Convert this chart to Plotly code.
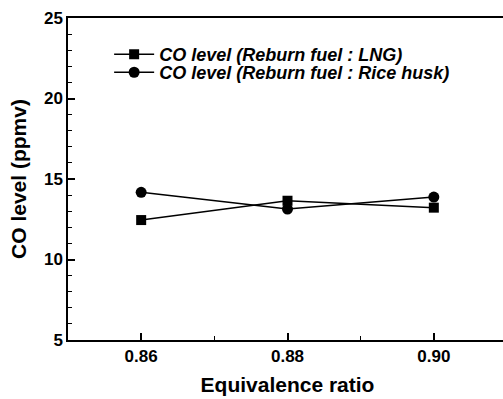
import plotly.graph_objects as go

equiv_ratio = [0.86, 0.88, 0.90]
co_lng = [12.45, 13.65, 13.22]
co_rice = [14.17, 13.13, 13.88]
series_names = ["CO level (Reburn fuel : LNG)", "CO level (Reburn fuel : Rice husk)"]
x_ticks = [0.86, 0.88, 0.90]
x_tick_labels = ["0.86", "0.88", "0.90"]
y_ticks = [5, 10, 15, 20, 25]

fig = go.Figure()
fig.add_trace(go.Scatter(
    x=equiv_ratio, y=co_lng, mode="lines+markers", name=series_names[0],
    line=dict(color="black", width=1.5),
    marker=dict(symbol="square", size=10, color="black"),
    legend="legend",
))
fig.add_trace(go.Scatter(
    x=equiv_ratio, y=co_rice, mode="lines+markers", name=series_names[1],
    line=dict(color="black", width=1.5),
    marker=dict(symbol="circle", size=11, color="black"),
    legend="legend2",
))

font_family = "Liberation Sans, Arial, sans-serif"
legend_font = dict(family=font_family, size=18, color="black", weight="bold", style="italic")
# The original figure continues a few pixels past the right edge of the 503px window.
fig.update_layout(
    width=507, height=399,
    margin=dict(l=68, r=0, t=18, b=59),
    paper_bgcolor="white", plot_bgcolor="white",
    showlegend=True,
    legend=dict(
        x=0.0937, y=0.944, xanchor="left", yanchor="top",
        bgcolor="rgba(0,0,0,0)", font=legend_font, itemwidth=40,
    ),
    legend2=dict(
        x=0.0937, y=0.888, xanchor="left", yanchor="top",
        bgcolor="rgba(0,0,0,0)", font=legend_font, itemwidth=40,
    ),
    font=dict(family=font_family, color="black"),
)
fig.update_xaxes(
    range=[0.85, 0.91],
    tickvals=x_ticks, ticktext=x_tick_labels,
    ticks="inside", ticklen=7, tickwidth=1.5, tickcolor="black",
    minor=dict(dtick=0.01, tick0=0.85, ticks="inside", ticklen=4, tickwidth=1.2,
               tickcolor="black", showgrid=False),
    showline=True, linecolor="black", linewidth=1.5, mirror=True,
    showgrid=False, zeroline=False,
    tickfont=dict(family=font_family, size=17, weight="bold"),
    title=dict(text="Equivalence ratio", font=dict(family=font_family, size=21, weight="bold"), standoff=12),
)
fig.update_yaxes(
    range=[5, 25],
    tickvals=y_ticks,
    ticks="inside", ticklen=7, tickwidth=1.5, tickcolor="black",
    minor=dict(dtick=1, tick0=5, ticks="inside", ticklen=4, tickwidth=1.2,
               tickcolor="black", showgrid=False),
    showline=True, linecolor="black", linewidth=1.5, mirror=False,
    showgrid=False, zeroline=False,
    tickfont=dict(family=font_family, size=17, weight="bold"),
    title=dict(text="CO level (ppmv)", font=dict(family=font_family, size=21, weight="bold"), standoff=12),
)

fig.write_html(
    "out.html",
    config={"displayModeBar": False},
    post_script=(
        "document.body.style.margin='0';document.body.style.overflow='hidden';"
        "document.documentElement.style.overflow='hidden';"
    ),
)
